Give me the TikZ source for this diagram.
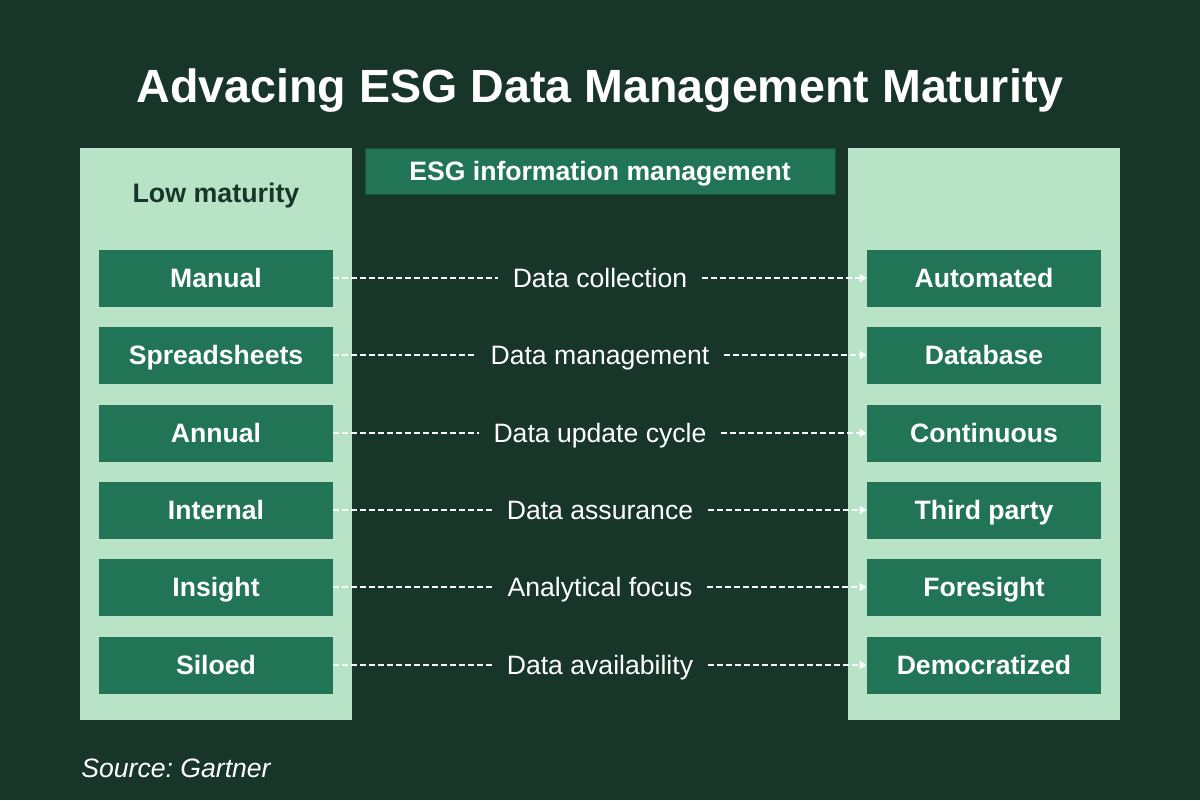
\documentclass[tikz,border=0pt]{standalone}
\usepackage{fontspec}
\setmainfont{Liberation Sans}
\usetikzlibrary{arrows.meta,positioning}
\frenchspacing
\definecolor{bgdark}{HTML}{173629}
\definecolor{panelgreen}{HTML}{B8E3C6}
\definecolor{boxgreen}{HTML}{217556}
\tikzset{
  levelbox/.style={fill=boxgreen, text=white, minimum width=117pt, minimum height=28.5pt,
    inner sep=0pt, text height=9.5pt, text depth=0pt, font=\fontsize{13.3}{15}\selectfont\bfseries},
  aspect/.style={text=white, inner sep=0pt, text height=9.5pt, text depth=0pt, font=\fontsize{13.3}{15}\selectfont},
  dashlink/.style={white!92!panelgreen, line width=0.8pt, dash pattern=on 3pt off 1.5pt}
}
\begin{document}
\begin{tikzpicture}[x=0.5pt, y=-0.5pt]
    % Background
    \fill[bgdark] (0,0) rectangle (1200,800);
    \useasboundingbox (0,0) rectangle (1200,800);

    % Title
    \node[text=white, text height=16.7pt, text depth=0pt, font=\fontsize{23.3}{26}\selectfont\bfseries] (title) at (600,86) {Advacing ESG Data Management Maturity};

    % Side panels
    \fill[panelgreen] (80,148) rectangle (352,720);
    \fill[panelgreen] (848,148) rectangle (1120,720);
    \node[text=bgdark, text height=9.5pt, text depth=0pt, font=\fontsize{13.4}{15}\selectfont\bfseries] (low) at (216,193) {Low maturity};

    % Header
    \node[fill=boxgreen, draw=bgdark!60!boxgreen, line width=0.5pt, minimum width=235pt, minimum height=23pt,
      inner sep=0pt, text height=9.5pt, text depth=0pt, text=white, font=\fontsize{13.3}{15}\selectfont\bfseries] (header) at (600,171) {ESG information management};

    % Rows: low maturity -- aspect -- high maturity
    \foreach \y/\low/\mid/\high [count=\i] in {
        278/Manual/Data collection/Automated,
        355/Spreadsheets/Data management/Database,
        433/Annual/Data update cycle/Continuous,
        510/Internal/Data assurance/Third party,
        587/Insight/Analytical focus/Foresight,
        665/Siloed/Data availability/Democratized} {
        \node[levelbox] (low\i) at (216,\y) {\low};
        \node[levelbox] (high\i) at (984,\y) {\high};
        \node[aspect] (mid\i) at (600,\y) {\mid};
        \draw[dashlink] (low\i.east) -- ([xshift=-7pt]mid\i.west);
        \draw[dashlink, -{Triangle[length=3.5pt, width=4pt]}] ([xshift=7pt]mid\i.east) -- (high\i.west);
    }

    % Source
    \node[anchor=base west, inner sep=0pt, text=white, font=\fontsize{13.3}{15}\selectfont\itshape] (source) at (81,777) {Source: Gartner};
\end{tikzpicture}
\end{document}
